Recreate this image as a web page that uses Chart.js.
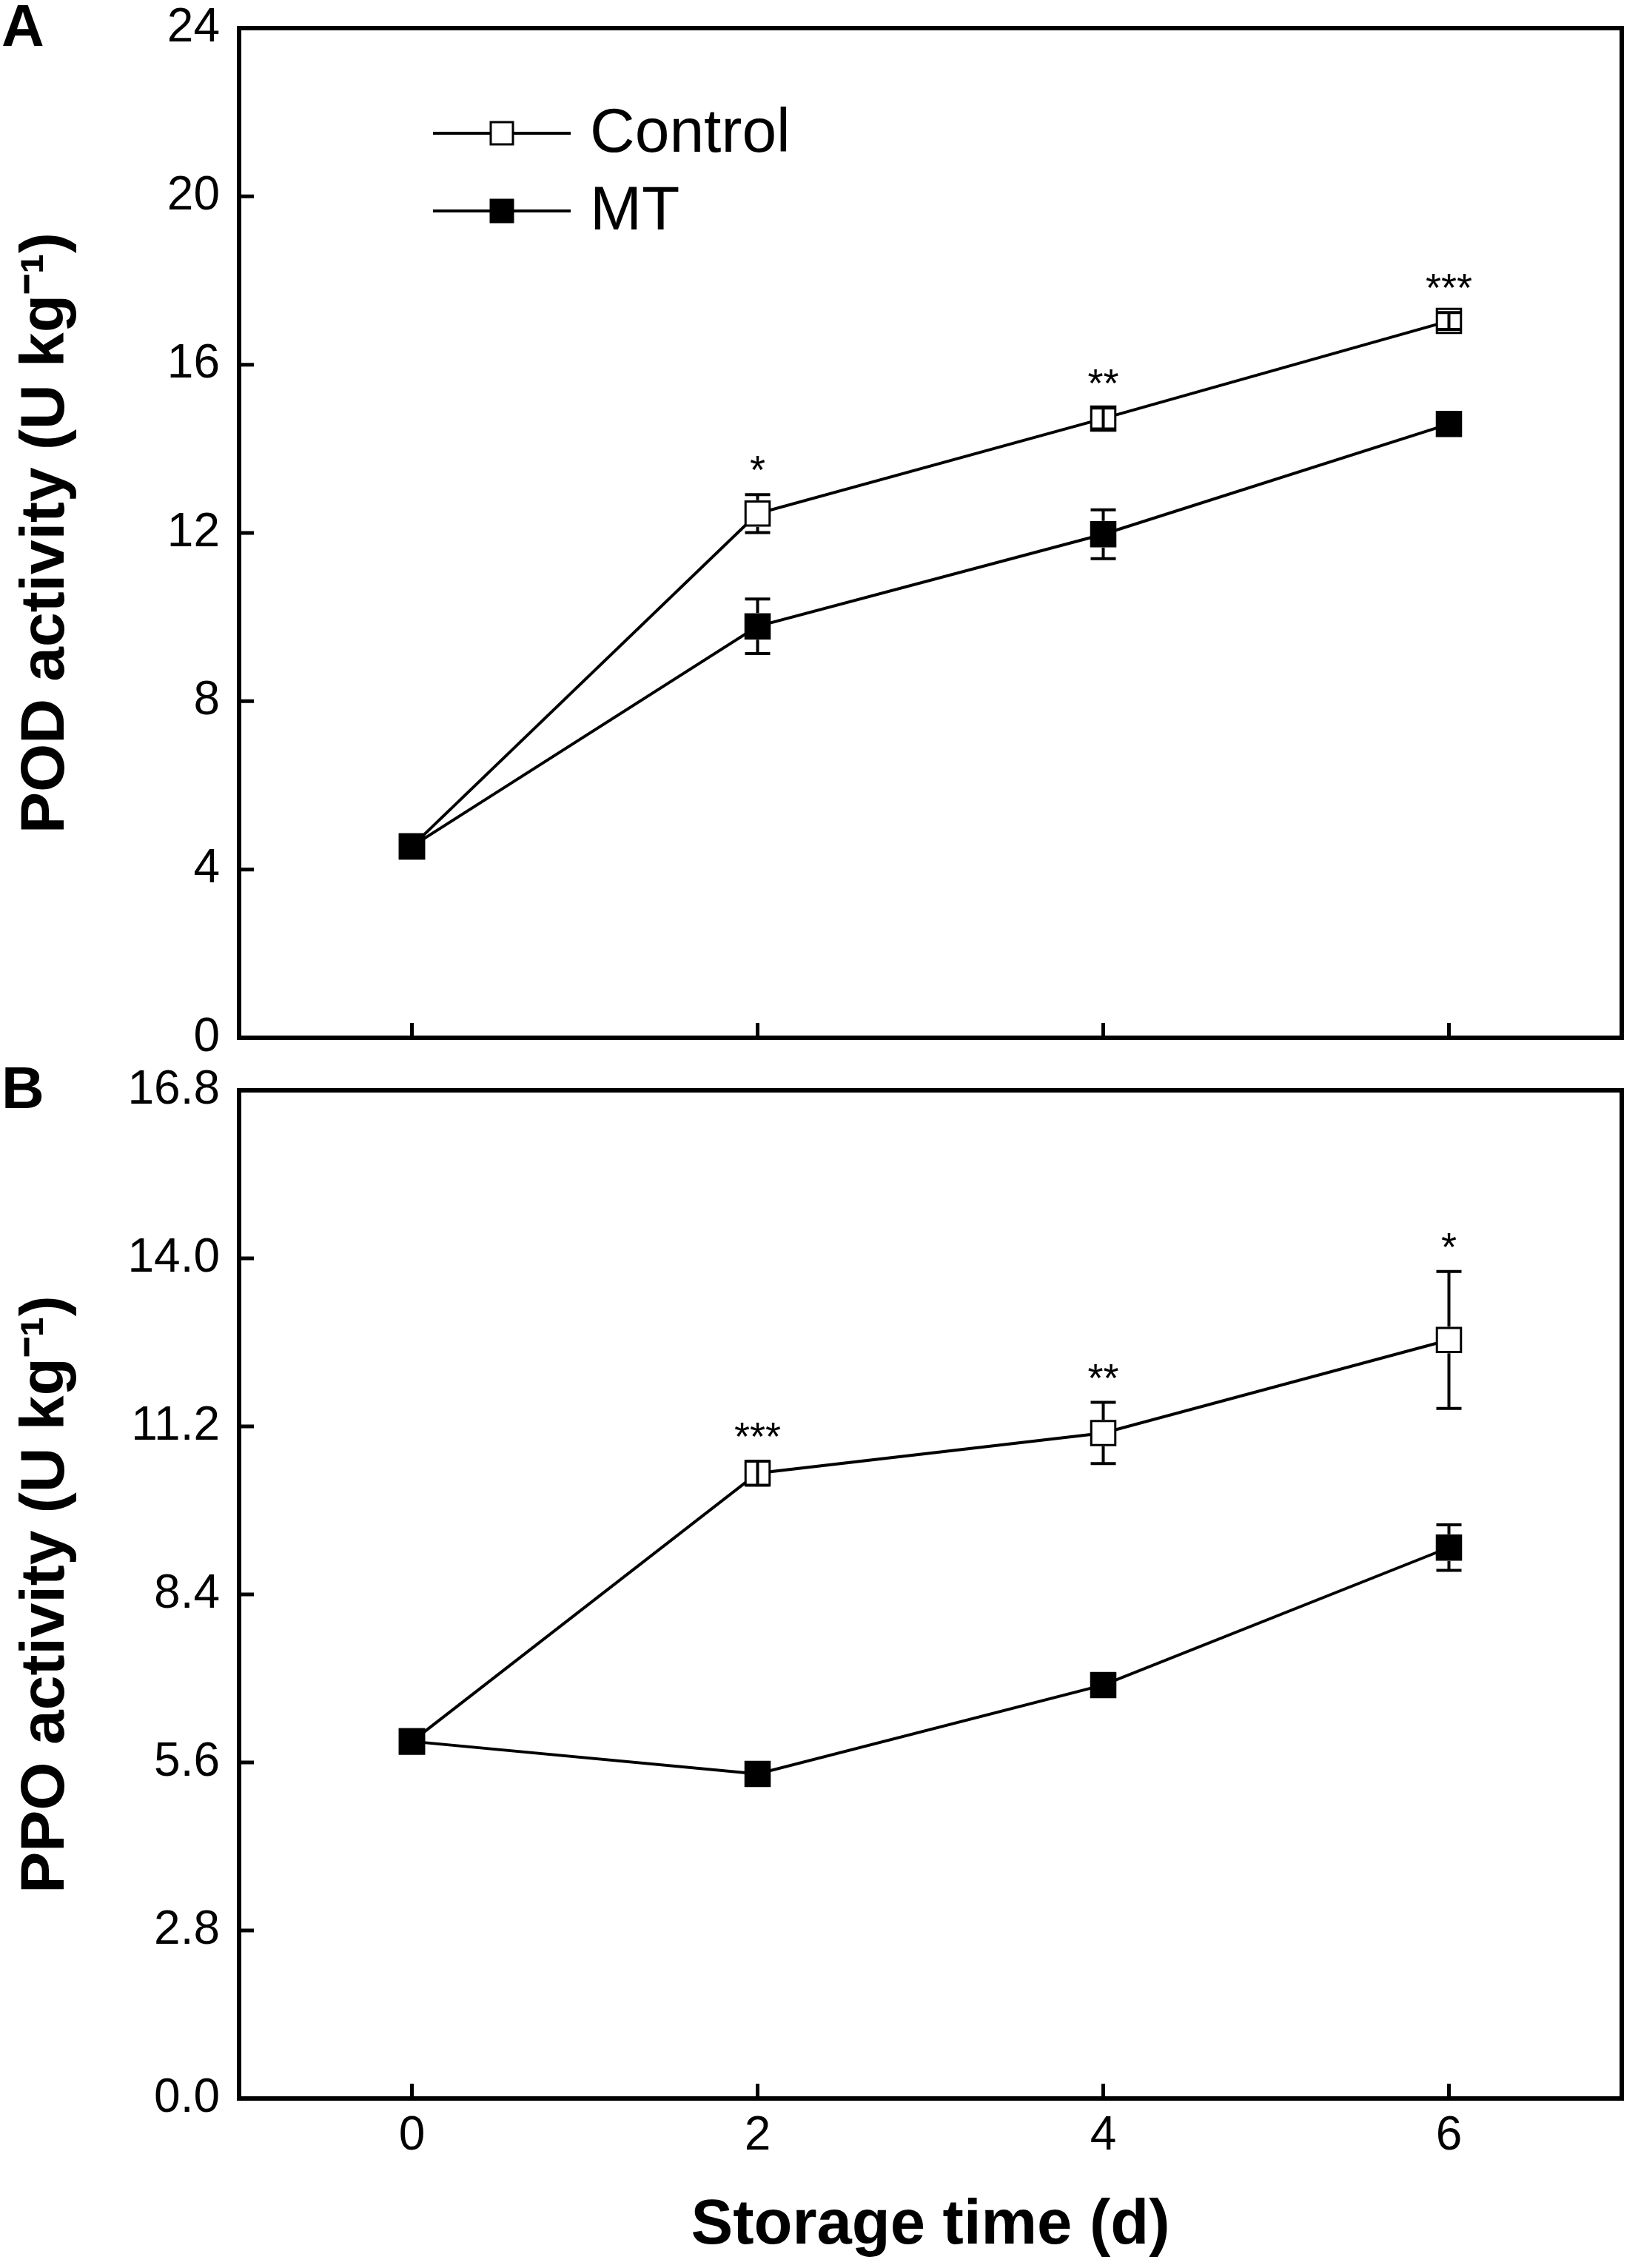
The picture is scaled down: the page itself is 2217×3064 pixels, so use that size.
<!DOCTYPE html>
<html><head><meta charset="utf-8">
<script src="https://cdn.jsdelivr.net/npm/chart.js@4.4.1/dist/chart.umd.min.js"></script>
<style>
html,body{margin:0;padding:0;background:#fff;}
#wrap{position:relative;width:2217px;height:3064px;background:#fff;}
#ca{position:absolute;left:0;top:0;width:2217px;height:1436px;}
#cb{position:absolute;left:0;top:1436px;width:2217px;height:1628px;}
</style></head><body>
<div id="wrap">
<canvas id="ca" width="2217" height="1436"></canvas>
<canvas id="cb" width="2217" height="1628"></canvas>
</div>
<script>
// ---- data ----
const days = [0, 2, 4, 6];
const xTicks = [0, 2, 4, 6];
const seriesNames = ['Control', 'MT'];
const podControl = [4.55, 12.46, 14.72, 17.04];
const podControlErr = [0.1, 0.45, 0.25, 0.2];
const podMT = [4.55, 9.78, 11.97, 14.59];
const podMTErr = [0.1, 0.65, 0.58, 0.2];
const podSig = ['', '*', '**', '***'];
const ppoControl = [5.95, 10.42, 11.09, 12.64];
const ppoControlErr = [0.1, 0.2, 0.51, 1.14];
const ppoMT = [5.95, 5.41, 6.89, 9.18];
const ppoMTErr = [0.1, 0.1, 0.1, 0.38];
const ppoSig = ['', '***', '**', '*'];
const yTicksA = [0, 4, 8, 12, 16, 20, 24];
const yTicksB = [0, 2.8, 5.6, 8.4, 11.2, 14.0, 16.8];
const yTitleA = 'POD activity (U kg\u207B\u00B9)';
const yTitleB = 'PPO activity (U kg\u207B\u00B9)';
const xTitle = 'Storage time (d)';

const FONT = "'Liberation Sans', Arial, Helvetica, sans-serif";

function pts(vals){ return days.map((d,i)=>({x:d, y:vals[i]})); }

function makeDatasets(ctrl, ctrlErr, mt, mtErr){
  return [
    {label: seriesNames[0], data: pts(ctrl), errors: ctrlErr, order: 1,
     borderColor:'#000', borderWidth:4, pointStyle:'rect', pointRadius:23,
     pointBackgroundColor:'#fff', pointBorderColor:'#000', pointBorderWidth:3,
     fill:false, tension:0, clip:false},
    {label: seriesNames[1], data: pts(mt), errors: mtErr, order: 0,
     borderColor:'#000', borderWidth:4, pointStyle:'rect', pointRadius:23,
     pointBackgroundColor:'#000', pointBorderColor:'#000', pointBorderWidth:3,
     fill:false, tension:0, clip:false}
  ];
}

const decor = {
  id: 'decor',
  beforeDatasetsDraw(chart, args, opts){
    const ctx = chart.ctx, a = chart.chartArea;
    const xs = chart.scales.x, ys = chart.scales.y;
    ctx.save();
    ctx.strokeStyle = '#000';
    ctx.lineWidth = 5;
    ctx.beginPath();
    ys.ticks.forEach(t => {
      const y = ys.getPixelForValue(t.value);
      if (Math.abs(y - a.top) < 3 || Math.abs(y - a.bottom) < 3) return;
      ctx.moveTo(a.left, y); ctx.lineTo(a.left + 20, y);
    });
    xs.ticks.forEach(t => {
      const x = xs.getPixelForValue(t.value);
      ctx.moveTo(x, a.bottom); ctx.lineTo(x, a.bottom - 20);
    });
    ctx.stroke();
    ctx.restore();
  },
  afterDatasetsDraw(chart, args, opts){
    const ctx = chart.ctx;
    const ys = chart.scales.y;
    ctx.save();
    ctx.strokeStyle = '#000';
    ctx.lineWidth = 4;
    const half = 18, cap = 17;
    const tops = [];
    chart.data.datasets.forEach((ds, di) => {
      const meta = chart.getDatasetMeta(di);
      ds.data.forEach((p, i) => {
        const e = ds.errors[i];
        const el = meta.data[i];
        const x = el.x, yc = el.y;
        const yt = ys.getPixelForValue(p.y + e), yb = ys.getPixelForValue(p.y - e);
        tops[i] = Math.min(tops[i] === undefined ? Infinity : tops[i], yt);
        if (i === 0) return;
        ctx.beginPath();
        if (yc - yt > half) { ctx.moveTo(x, yt); ctx.lineTo(x, yc - half); ctx.moveTo(x, yc + half); ctx.lineTo(x, yb); }
        else { ctx.moveTo(x, yt); ctx.lineTo(x, yb); }
        ctx.moveTo(x - cap, yt); ctx.lineTo(x + cap, yt);
        ctx.moveTo(x - cap, yb); ctx.lineTo(x + cap, yb);
        ctx.stroke();
      });
    });
    // significance marks
    const sig = opts.sig || [];
    ctx.fillStyle = '#000';
    ctx.font = '54px ' + FONT;
    ctx.textAlign = 'center';
    ctx.textBaseline = 'alphabetic';
    const meta0 = chart.getDatasetMeta(0);
    sig.forEach((s, i) => {
      if (!s) return;
      const x = meta0.data[i].x;
      const cy = tops[i] - 46;
      ctx.fillText(s, x, cy + 31);
    });
    ctx.restore();
  },
  afterDraw(chart, args, opts){
    const ctx = chart.ctx, a = chart.chartArea;
    ctx.save();
    ctx.strokeStyle = '#000';
    ctx.lineWidth = 6;
    ctx.strokeRect(a.left, a.top, a.right - a.left, a.bottom - a.top);
    // panel letter
    ctx.fillStyle = '#000';
    ctx.font = 'bold 80px ' + FONT;
    ctx.textAlign = 'left';
    ctx.textBaseline = 'alphabetic';
    ctx.fillText(opts.panel, 2, opts.panelY);
    // legend
    if (opts.legend) {
      const L = opts.legend;
      chart.data.datasets.forEach((ds, di) => {
        const y = L.y + di * L.dy;
        ctx.strokeStyle = '#000';
        ctx.lineWidth = 4;
        ctx.beginPath(); ctx.moveTo(L.x0, y); ctx.lineTo(L.x1, y); ctx.stroke();
        const s = 30;
        ctx.fillStyle = ds.pointBackgroundColor;
        ctx.fillRect(L.xm - s/2, y - s/2, s, s);
        ctx.lineWidth = 3;
        ctx.strokeRect(L.xm - s/2, y - s/2, s, s);
        ctx.fillStyle = '#000';
        ctx.font = '84px ' + FONT;
        ctx.textBaseline = 'middle';
        ctx.fillText(ds.label, L.xt, y + 2);
      });
    }
    ctx.restore();
  }
};

function makeChart(id, datasets, yTicks, yFmt, yTitle, showX, xHeight, padTop, pluginOpts){
  return new Chart(document.getElementById(id), {
    type: 'line',
    data: { datasets },
    options: {
      responsive: false,
      animation: false,
      devicePixelRatio: 1,
      layout: { padding: { top: padTop, left: 0, right: 11, bottom: 0 } },
      plugins: { legend: { display: false }, tooltip: { enabled: false }, decor: pluginOpts },
      scales: {
        x: {
          type: 'linear', min: -1, max: 7,
          grid: { display: false, drawTicks: false },
          border: { display: false },
          afterBuildTicks: s => { s.ticks = xTicks.map(v => ({ value: v })); },
          afterFit: s => { s.height = xHeight; },
          ticks: { display: showX, padding: 19, color: '#000', font: { family: FONT, size: 64, lineHeight: 1 },
                   callback: v => String(v), maxRotation: 0 },
          title: { display: showX, text: xTitle, color: '#000', padding: { top: 0, bottom: 5 },
                   font: { family: FONT, size: 85, weight: 'bold', lineHeight: 1.2 } }
        },
        y: {
          type: 'linear', min: yTicks[0], max: yTicks[yTicks.length - 1],
          grid: { display: true, drawOnChartArea: false, drawTicks: true, tickLength: 26, color: 'rgba(0,0,0,0)' },
          border: { display: false },
          afterBuildTicks: s => { s.ticks = yTicks.map(v => ({ value: v })); },
          afterFit: s => { s.width = 323; },
          ticks: { padding: 0, color: '#000', font: { family: FONT, size: 64, lineHeight: 1 }, callback: yFmt },
          title: { display: true, text: yTitle, color: '#000', padding: { top: 12, bottom: 0 },
                   font: { family: FONT, size: 84, weight: 'bold', lineHeight: 1.2 } }
        }
      }
    },
    plugins: [decor]
  });
}

makeChart('ca', makeDatasets(podControl, podControlErr, podMT, podMTErr), yTicksA,
  v => String(v), yTitleA, false, 1436 - 1402, 38,
  { sig: podSig, panel: 'A', panelY: 62, legend: { x0: 585, x1: 771, xm: 678, xt: 797, y: 180, dy: 105 } });

makeChart('cb', makeDatasets(ppoControl, ppoControlErr, ppoMT, ppoMTErr), yTicksB,
  v => Number(v).toFixed(1), yTitleB, true, 1628 - (2835 - 1436), 1473 - 1436,
  { sig: ppoSig, panel: 'B', panelY: 1497 - 1436 });
</script>
</body></html>
